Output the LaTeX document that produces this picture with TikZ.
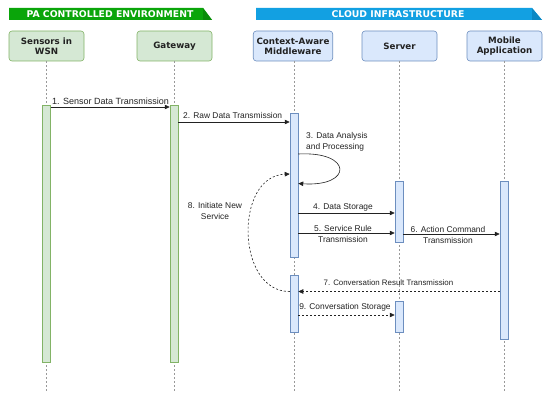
\documentclass[tikz,border=0pt]{standalone}
\usepackage{fontspec}
\setmainfont{Liberation Sans}
\newfontfamily\boxfont{DejaVu Sans}
\usetikzlibrary{arrows.meta}
\definecolor{gfill}{HTML}{D5E8D4}
\definecolor{gline}{HTML}{82B366}
\definecolor{bfill}{HTML}{DAE8FC}
\definecolor{bline}{HTML}{6C8EBF}
\definecolor{gban}{HTML}{0AA50A}
\definecolor{gbandark}{HTML}{088C08}
\definecolor{bban}{HTML}{12A0E2}
\definecolor{bbandark}{HTML}{0C88C4}
\definecolor{txt}{HTML}{222222}
\tikzset{
  part/.style={draw=#1line, fill=#1fill, rounded corners=3pt, minimum width=75pt, minimum height=30pt,
    align=center, font=\boxfont\bfseries\fontsize{8.7}{10.2}\selectfont, text=txt, line width=0.6pt},
  bar/.style={draw=#1line, fill=#1fill, minimum width=8pt, inner sep=0pt, line width=0.5pt},
  life/.style={draw=gray!80, line width=0.5pt, dash pattern=on 2pt off 2pt},
  msg/.style={draw=txt, line width=0.6pt, -{Triangle[length=5pt,width=4.5pt]}},
  rmsg/.style={msg, dash pattern=on 2pt off 2pt},
  lbl/.style={font=\fontsize{8.4}{10.5}\selectfont, text=txt, inner sep=0pt, align=center},
  bantext/.style={font=\boxfont\bfseries\fontsize{9.3}{10}\selectfont, text=white, inner sep=0pt}
}
\begin{document}
\begin{tikzpicture}[x=1pt,y=-1pt]
\useasboundingbox (0,0) rectangle (550,404);
% banners
\fill[gban] (9,8) -- (203,8) -- (212,20) -- (9,20) -- cycle;
\fill[gbandark] (203,8) -- (212,20) -- (203,20) -- cycle;
\node[bantext] (bang) at (110,14) {PA CONTROLLED ENVIRONMENT};
\fill[bban] (256,8) -- (532,8) -- (542,20) -- (256,20) -- cycle;
\fill[bbandark] (532,8) -- (542,20) -- (532,20) -- cycle;
\node[bantext] (banb) at (398,14) {CLOUD INFRASTRUCTURE};
% participants
\node[part=g] (sens) at (46.5,46) {Sensors in\\WSN};
\node[part=g] (gw) at (174.5,46) {Gateway};
\node[part=b] (mw) at (293,46) {Context-Aware\\Middleware};
\node[part=b] (srv) at (399.5,46) {Server};
\node[part=b] (mob) at (504.5,46) {Mobile\\Application};
% lifeline ends
\coordinate (sensE) at (46.5,392);
\coordinate (gwE) at (174,392);
\coordinate (mwE) at (294,392);
\coordinate (srvE) at (399,392);
\coordinate (mobE) at (504,392);
\draw[life] (sens.south -| sensE) -- (sensE);
\draw[life] (gw.south -| gwE) -- (gwE);
\draw[life] (mw.south -| mwE) -- (mwE);
\draw[life] (srv.south -| srvE) -- (srvE);
\draw[life] (mob.south -| mobE) -- (mobE);
% activation bars
\node[bar=g, minimum height=257pt] (sb) at (46.5,233.5) {};
\node[bar=g, minimum height=257pt] (gb) at (174,233.5) {};
\node[bar=b, minimum height=144pt] (mb1) at (294,185) {};
\node[bar=b, minimum height=57pt] (mb2) at (294,303.5) {};
\node[bar=b, minimum height=61pt] (vb1) at (399,211.5) {};
\node[bar=b, minimum height=31pt] (vb2) at (399,316.5) {};
\node[bar=b, minimum height=158pt] (ab) at (504,260) {};
% y levels
\coordinate (y1) at (0,107);
\coordinate (y2) at (0,122);
\coordinate (y3a) at (0,154);
\coordinate (y3b) at (0,183.5);
\coordinate (y4) at (0,213);
\coordinate (y5) at (0,233);
\coordinate (y6) at (0,234);
\coordinate (y7) at (0,291.5);
\coordinate (y8) at (0,174);
\coordinate (y9) at (0,315);
% messages
\draw[msg] (sb.east |- y1) -- (gb.west |- y1);
\node[lbl, font=\fontsize{9}{10.5}\selectfont] (l1) at (110.5,101) {1. Sensor Data Transmission};
\draw[msg] (gb.east |- y2) -- (mb1.west |- y2);
\node[lbl, anchor=west] (l2) at (183,115) {2. Raw Data Transmission};
\draw[msg] (mb1.east |- y3a) .. controls (353,151) and (353,187) .. (mb1.east |- y3b);
\node[lbl, anchor=west, align=left] (l3) at (306,142) {3. Data Analysis\\and Processing};
\draw[msg] (mb1.east |- y4) -- (vb1.west |- y4);
\node[lbl] (l4) at (343,207) {4. Data Storage};
\draw[msg] (mb1.east |- y5) -- (vb1.west |- y5);
\node[lbl, font=\fontsize{8.4}{11}\selectfont] (l5) at (343,233.5) {5. Service Rule\\Transmission};
\draw[msg] (vb1.east |- y6) -- (ab.west |- y6);
\node[lbl, font=\fontsize{8.4}{11}\selectfont] (l6) at (448,234.5) {6. Action Command\\Transmission};
\draw[rmsg] (ab.west |- y7) -- (mb2.east |- y7);
\node[lbl, font=\fontsize{7.9}{10}\selectfont] (l7) at (388.5,282.5) {7. Conversation Result Transmission};
\draw[rmsg] (mb2.west |- y7) .. controls (236,292) and (234,176) .. (mb1.west |- y8);
\node[lbl] (l8) at (215,211) {8. Initiate New\\Service};
\draw[rmsg] (mb2.east |- y9) -- (vb2.west |- y9);
\node[lbl] (l9) at (345,307) {9. Conversation Storage};
\end{tikzpicture}
\end{document}
